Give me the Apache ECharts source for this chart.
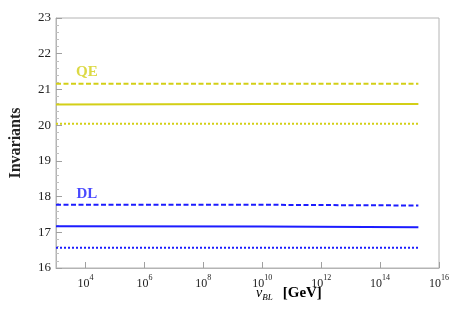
<!DOCTYPE html>
<html><head><meta charset="utf-8">
<script src="https://cdn.jsdelivr.net/npm/echarts@6/dist/echarts.min.js"></script>
<style>html,body{margin:0;padding:0;background:#fff}#c{width:452px;height:312px}</style>
</head><body><div id="c"></div>
<script>
// x values are log10(v_BL / GeV)
const xExp = [3, 10, 15.3];
const qeDashed = [21.16, 21.16, 21.16];
const qeSolid = [20.58, 20.59, 20.59];
const qeDotted = [20.04, 20.04, 20.04];
const dlDashed = [17.77, 17.77, 17.75];
const dlSolid = [17.17, 17.16, 17.14];
const dlDotted = [16.57, 16.57, 16.57];
const xTickExp = [4, 6, 8, 10, 12, 14, 16];
const labels = [{text: 'QE', x: 4.05, y: 21.48}, {text: 'DL', x: 4.05, y: 18.08}];

const YEL = '#d3cf17', BLU = '#1c1cff';
const serif = '"Liberation Serif", "DejaVu Serif", serif';
function pts(ys){ return xExp.map((x,i)=>[x, ys[i]]); }
function line(name, ys, color, type, w){
  return {type:'line', name, data: pts(ys), symbol:'none', silent:true,
    lineStyle:{color, type, width:w}};
}
const chart = echarts.init(document.getElementById('c'));
chart.setOption({
  animation:false,
  grid:{left:52, right:10, top:18, bottom:44, show:true, borderColor:'#b4b4b4', borderWidth:1},
  xAxis:{type:'value', min:3, max:16,
    axisLine:{lineStyle:{color:'#b4b4b4'}},
    axisTick:{inside:true, length:6, customValues:xTickExp, lineStyle:{color:'#a0a0a0'}},
    splitLine:{show:false},
    axisLabel:{customValues:xTickExp, margin:6, color:'#222',
      formatter: v => '{b|10}{s|' + v + '}',
      rich:{b:{fontFamily:serif, fontSize:12, color:'#222', lineHeight:16, verticalAlign:'bottom'},
            s:{fontFamily:serif, fontSize:8, color:'#222', lineHeight:16, verticalAlign:'top'}}}
  },
  yAxis:{type:'value', min:16, max:23, interval:1,
    name:'Invariants', nameLocation:'middle', nameGap:32,
    nameTextStyle:{fontFamily:serif, fontSize:16, fontWeight:'bold', color:'#222'},
    axisLine:{show:true, lineStyle:{color:'#b4b4b4'}},
    axisTick:{inside:true, length:6, lineStyle:{color:'#a0a0a0'}},
    minorTick:{show:true, splitNumber:5, length:3, lineStyle:{color:'#c0c0c0'}},
    splitLine:{show:false},
    axisLabel:{fontFamily:serif, fontSize:13, color:'#222', margin:5}
  },
  graphic:[{type:'text', left:256, top:286, style:{
    text:'{v|v}{sub|BL}{g|[GeV]}',
    rich:{v:{fontFamily:serif, fontStyle:'italic', fontSize:14, color:'#888', lineHeight:18, verticalAlign:'middle'},
          sub:{fontFamily:serif, fontStyle:'italic', fontSize:9, color:'#888', lineHeight:18, verticalAlign:'bottom'},
          g:{fontFamily:serif, fontWeight:'bold', fontSize:15, color:'#444', lineHeight:18, verticalAlign:'middle', padding:[0,0,0,10]}}
  }}],
  series:[
    line('QE dashed', qeDashed, YEL, [5,2.5], 2),
    line('QE', qeSolid, YEL, 'solid', 2),
    line('QE dotted', qeDotted, YEL, [2,2], 2),
    line('DL dashed', dlDashed, BLU, [5,2.5], 2),
    line('DL', dlSolid, BLU, 'solid', 2),
    line('DL dotted', dlDotted, BLU, [2,2], 2),
    {type:'scatter', symbolSize:0, silent:true,
      data: labels.map((l,i)=>({value:[l.x, l.y], name:l.text,
        label:{show:true, position:'inside', formatter:l.text, fontFamily:serif, fontWeight:'bold', fontSize:15,
          color: i===0 ? YEL : BLU}}))}
  ]
});
</script></body></html>
